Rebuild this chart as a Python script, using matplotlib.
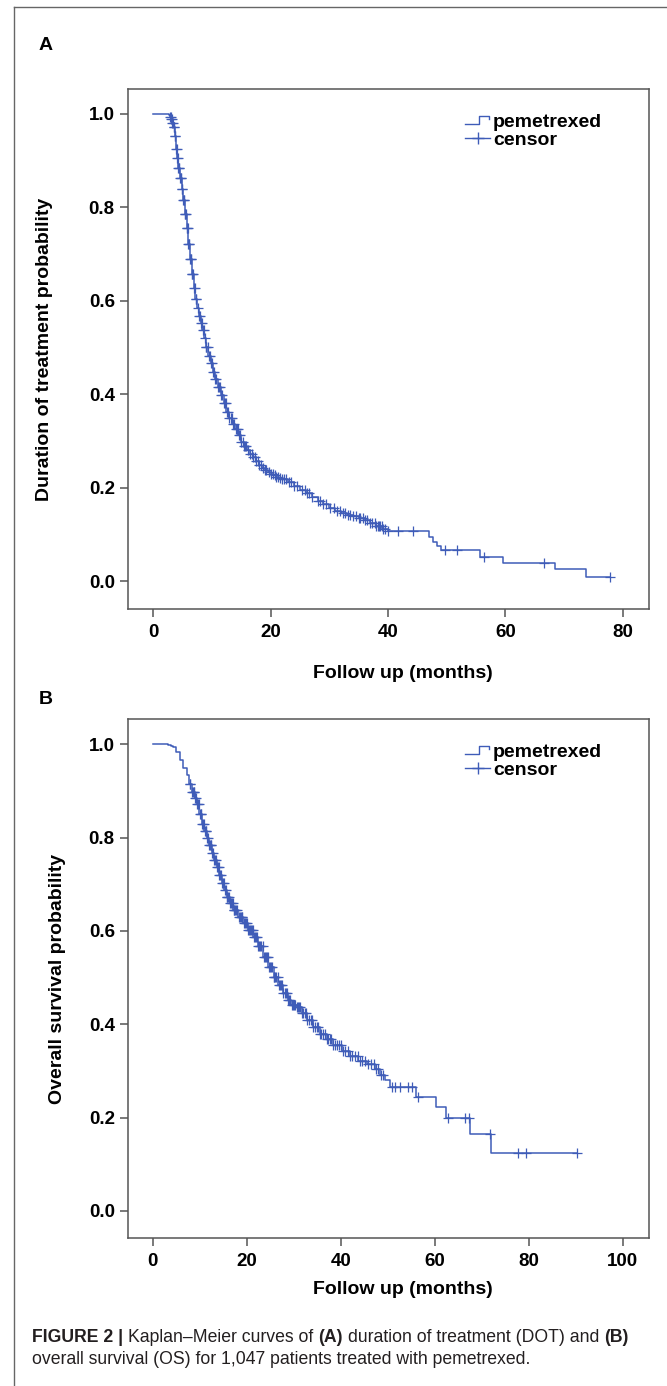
import numpy as np
import matplotlib
matplotlib.use('Agg')
import matplotlib.pyplot as plt
from matplotlib.lines import Line2D
from matplotlib.legend_handler import HandlerBase
from matplotlib.ticker import FormatStrFormatter

# ---------------- data ----------------
# Panel A: duration of treatment (Kaplan-Meier step knots)
dot_time = [0, 2.7, 2.9, 3.1, 3.3, 3.5, 3.7, 3.9, 4.1, 4.3, 4.6, 4.9, 5.1, 5.4, 5.7,
            6.0, 6.3, 6.6, 6.9, 7.2, 7.5, 7.8, 8.1, 8.4, 8.7, 9.0, 9.4, 9.8, 10.2,
            10.6, 11.0, 11.5, 12.0, 12.5, 13.0, 13.5, 14.0, 14.5, 15.0, 15.5, 16.0,
            16.5, 17.0, 17.5, 18.0, 18.5, 19.0, 19.5, 20.0, 20.5, 21.0, 21.5, 22.0,
            23.0, 24.0, 25.0, 26.0, 27.0, 28.0, 29.0, 30.0, 31.0, 32.0, 33.0, 34.0,
            35.0, 36.0, 37.0, 38.0, 39.0, 40.0, 47.0, 47.6, 48.3, 49.0, 55.6, 59.5,
            68.4, 73.7]
dot_surv = [1.0, 0.997, 0.993, 0.988, 0.981, 0.972, 0.952, 0.925, 0.905, 0.885, 0.862,
            0.84, 0.815, 0.785, 0.755, 0.722, 0.69, 0.658, 0.628, 0.603, 0.585, 0.568,
            0.552, 0.537, 0.52, 0.502, 0.483, 0.466, 0.448, 0.432, 0.416, 0.398, 0.381,
            0.363, 0.35, 0.337, 0.325, 0.313, 0.299, 0.29, 0.281, 0.273, 0.265, 0.258,
            0.25, 0.243, 0.238, 0.234, 0.23, 0.227, 0.224, 0.221, 0.218, 0.212, 0.204,
            0.196, 0.188, 0.181, 0.173, 0.165, 0.158, 0.151, 0.146, 0.143, 0.139, 0.136,
            0.131, 0.125, 0.119, 0.112, 0.107, 0.094, 0.085, 0.076, 0.067, 0.052, 0.040,
            0.026, 0.010]
dot_censor = [2.9, 3.0, 3.1, 3.2, 3.3, 3.4, 3.5, 3.6, 3.7, 3.8, 3.9, 4.0, 4.1, 4.2, 4.3,
              4.4, 4.5, 4.6, 4.7, 4.8, 4.9, 5.0, 5.1, 5.2, 5.3, 5.4, 5.5, 5.6, 5.7, 5.8,
              5.9, 6.0, 6.1, 6.2, 6.3, 6.4, 6.5, 6.6, 6.7, 6.8, 7.0, 7.1, 7.3, 7.4, 7.6,
              7.8, 8.0, 8.1, 8.3, 8.5, 8.6, 8.8, 9.0, 9.1, 9.3, 9.5, 9.7, 9.9, 10.0,
              10.2, 10.4, 10.6, 10.8, 11.0, 11.2, 11.4, 11.6, 11.8, 12.1, 12.3, 12.4,
              12.6, 12.8, 13.0, 13.2, 13.4, 13.6, 13.8, 14.1, 14.3, 14.4, 14.6, 14.8,
              15.0, 15.3, 15.5, 15.7, 15.9, 16.2, 16.5, 16.8, 17.0, 17.3, 17.6, 17.9,
              18.1, 18.4, 18.7, 19.0, 19.3, 19.7, 20.0, 20.4, 20.8, 21.0, 21.3, 21.6,
              22.0, 22.3, 22.6, 23.1, 23.5, 24.0, 24.5, 25.3, 25.8, 26.2, 26.6, 27.0,
              28.0, 28.4, 29.0, 29.5, 30.2, 30.8, 31.3, 31.8, 32.3, 32.7, 33.2, 33.6,
              34.0, 34.5, 35.0, 35.3, 35.7, 36.1, 36.5, 37.0, 37.3, 37.8, 38.0, 38.3,
              38.5, 38.7, 38.9, 39.2, 39.5, 40.0, 41.7, 44.2, 49.7, 51.7, 56.4, 66.5,
              77.8]

# Panel B: overall survival
os_time = [0, 3.3, 3.8, 4.4, 5.0, 5.8, 6.5, 7.2, 7.8, 8.3, 8.9, 9.4, 9.9, 10.4, 11.0,
           11.5, 12.0, 12.6, 13.1, 13.6, 14.2, 14.7, 15.2, 15.7, 16.4, 17.1, 18.2, 19.3,
           20.3, 21.4, 22.4, 23.5, 24.6, 25.7, 26.7, 27.8, 28.8, 29.5, 30.6, 31.7, 32.8,
           34.2, 35.6, 37.0, 38.4, 40.2, 42.0, 43.7, 45.5, 47.3, 48.4, 49.4, 50.5, 56.0,
           60.3, 62.5, 67.5, 71.9]
os_surv = [1.0, 0.999, 0.997, 0.993, 0.984, 0.966, 0.95, 0.933, 0.915, 0.898, 0.885,
           0.872, 0.85, 0.83, 0.815, 0.8, 0.783, 0.766, 0.751, 0.737, 0.72, 0.703, 0.688,
           0.673, 0.659, 0.645, 0.63, 0.616, 0.601, 0.587, 0.567, 0.545, 0.523, 0.502,
           0.485, 0.468, 0.452, 0.442, 0.437, 0.424, 0.409, 0.394, 0.38, 0.368, 0.356,
           0.343, 0.331, 0.322, 0.315, 0.304, 0.291, 0.28, 0.265, 0.245, 0.222, 0.2,
           0.165, 0.124]
os_censor = [7.9, 8.0, 8.3, 8.5, 8.7, 8.8, 9.0, 9.2, 9.4, 9.6, 9.8, 10.0, 10.2, 10.3,
             10.5, 10.7, 10.9, 11.1, 11.3, 11.4, 11.6, 11.8, 12.0, 12.2, 12.4, 12.5,
             12.7, 12.9, 13.1, 13.3, 13.5, 13.7, 13.9, 14.0, 14.2, 14.4, 14.6, 14.8,
             15.0, 15.1, 15.3, 15.5, 15.7, 15.9, 16.1, 16.3, 16.5, 16.7, 16.9, 17.0,
             17.2, 17.4, 17.6, 17.8, 18.0, 18.3, 18.5, 18.7, 18.9, 19.1, 19.4, 19.6,
             19.8, 20.0, 20.3, 20.5, 20.7, 20.9, 21.1, 21.3, 21.6, 21.8, 22.0, 22.2,
             22.5, 22.7, 22.9, 23.1, 23.4, 23.6, 23.8, 24.0, 24.3, 24.5, 24.8, 25.0,
             25.2, 25.4, 25.7, 25.9, 26.1, 26.3, 26.6, 26.8, 27.1, 27.3, 27.6, 27.8,
             28.1, 28.3, 28.6, 28.8, 29.1, 29.3, 29.6, 29.8, 30.1, 30.3, 30.6, 30.9,
             31.2, 31.4, 31.7, 32.0, 32.3, 32.6, 32.9, 33.2, 33.6, 33.9, 34.2, 34.5,
             34.9, 35.2, 35.6, 35.9, 36.3, 36.6, 37.0, 37.3, 37.7, 38.0, 38.4, 38.8,
             39.2, 39.6, 40.0, 40.5, 41.0, 41.5, 42.0, 42.5, 43.0, 43.6, 44.1, 44.6,
             45.2, 45.8, 46.4, 47.0, 47.5, 48.0, 48.5, 49.0, 50.9, 51.6, 52.6, 54.4,
             55.1, 56.5, 62.8, 66.5, 67.2, 71.7, 77.8, 79.5, 90.2]

xticks_a = [0, 20, 40, 60, 80]
xticks_b = [0, 20, 40, 60, 80, 100]
yticks = [0.0, 0.2, 0.4, 0.6, 0.8, 1.0]
legend_labels = ['pemetrexed', 'censor']
ylabel_a = 'Duration of treatment probability'
ylabel_b = 'Overall survival probability'
xlabel = 'Follow up (months)'
caption_line1 = [('FIGURE 2 |', 'bold'), ('Kaplan–Meier curves of', 'normal'), ('(A)', 'bold'),
                 ('duration of treatment (DOT) and', 'normal'), ('(B)', 'bold')]
caption_line2 = 'overall survival (OS) for 1,047 patients treated with pemetrexed.'

# ---------------- style ----------------
W, H = 667, 1386
BLUE = '#3f5cb8'
FRAME = '#555555'
FONT = ['Liberation Sans', 'DejaVu Sans']
plt.rcParams['font.family'] = FONT

fig = plt.figure(figsize=(W / 100, H / 100), dpi=100)


def fx(px):
    return px / W


def fy(py):
    return 1 - py / H


class StepHandler(HandlerBase):
    def create_artists(self, legend, orig_handle, xdescent, ydescent, width, height,
                       fontsize, trans):
        x = np.array([0, 0.55, 0.55, 0.95, 0.95]) * width - xdescent
        y = np.array([0.2, 0.2, 0.75, 0.75, 0.55]) * height - ydescent
        ln = Line2D(x, y, color=BLUE, lw=1.0)
        ln.set_transform(trans)
        return [ln]


def step_value(times, surv, t):
    idx = np.searchsorted(np.asarray(times), np.asarray(t), side='right') - 1
    return np.asarray(surv)[idx]


def panel(top_px, bottom_px, times, surv, censor, xlim, ylim, xticks, ylabel,
          ylabel_x, xlabel_y):
    ax = fig.add_axes([fx(128), fy(bottom_px), fx(649) - fx(128),
                       fy(top_px) - fy(bottom_px)])
    t_end = max(censor)
    ax.step(list(times) + [t_end], list(surv) + [surv[-1]], where='post',
            color=BLUE, lw=1.1)
    ax.plot(censor, step_value(times, surv, censor), linestyle='none', marker='+',
            ms=6.5, mew=0.9, color=BLUE)
    ax.set_xlim(*xlim)
    ax.set_ylim(*ylim)
    ax.set_xticks(xticks)
    ax.set_yticks(yticks)
    ax.yaxis.set_major_formatter(FormatStrFormatter('%.1f'))
    for sp in ax.spines.values():
        sp.set_color(FRAME)
        sp.set_linewidth(1.1)
    ax.tick_params(direction='out', length=6, width=1.1, color=FRAME,
                   labelsize=13.5, pad=3.5)
    for lbl in ax.get_xticklabels() + ax.get_yticklabels():
        lbl.set_fontweight('bold')
    ax.tick_params(axis='x', pad=5)
    handles = [Line2D([], [], color=BLUE, lw=1.0),
               Line2D([], [], color=BLUE, lw=1.0, marker='+', ms=9, mew=1.0)]
    ax.legend(handles, legend_labels, handler_map={handles[0]: StepHandler()},
              loc='upper left', bbox_to_anchor=(fx(465), fy(top_px + 24)),
              bbox_transform=fig.transFigure, frameon=False, borderpad=0,
              borderaxespad=0, handlelength=1.3, handletextpad=0.15,
              labelspacing=0.05, numpoints=1,
              prop={'weight': 'bold', 'size': 14})
    fig.text(fx(ylabel_x), (fy(top_px) + fy(bottom_px)) / 2, ylabel, rotation=90,
             ha='center', va='center', fontsize=14, fontweight='bold')
    fig.text(fx(403), fy(xlabel_y), xlabel, ha='center', va='center', fontsize=14,
             fontweight='bold')
    return ax


ax_a = panel(89, 609, dot_time, dot_surv, dot_censor, (-4.26, 84.43), (-0.059, 1.053),
             xticks_a, ylabel_a, 45, 674)
ax_b = panel(719, 1238, os_time, os_surv, os_censor, (-5.26, 105.6), (-0.058, 1.054),
             xticks_b, ylabel_b, 57, 1290)

fig.text(fx(46), fy(45), 'A', ha='center', va='center', fontsize=14, fontweight='bold')
fig.text(fx(46), fy(700), 'B', ha='center', va='center', fontsize=14, fontweight='bold')

# outer frame (left and top edges)
fig.add_artist(Line2D([fx(14), fx(14)], [fy(7), 0], transform=fig.transFigure,
                      color='#666666', lw=1.0))
fig.add_artist(Line2D([fx(14), 1], [fy(7), fy(7)], transform=fig.transFigure,
                      color='#666666', lw=1.0))

# caption
renderer = fig.canvas.get_renderer()
CAP_SIZE = 12.7
CAP_COLOR = '#231f20'


def text_width(s, weight):
    t = fig.text(0, 0, s, fontsize=CAP_SIZE, fontweight=weight)
    w = t.get_window_extent(renderer).width
    t.remove()
    return w


space_w = text_width('x x', 'normal') - text_width('xx', 'normal')
xpos = 32
for s, wt in caption_line1:
    t = fig.text(fx(xpos), fy(1337), s, fontsize=CAP_SIZE, fontweight=wt,
                 ha='left', va='center', color=CAP_COLOR)
    xpos = t.get_window_extent(renderer).x1 + space_w
fig.text(fx(32), fy(1360), caption_line2, fontsize=CAP_SIZE, ha='left', va='center',
         color=CAP_COLOR)

fig.savefig('out.png', dpi=100)
